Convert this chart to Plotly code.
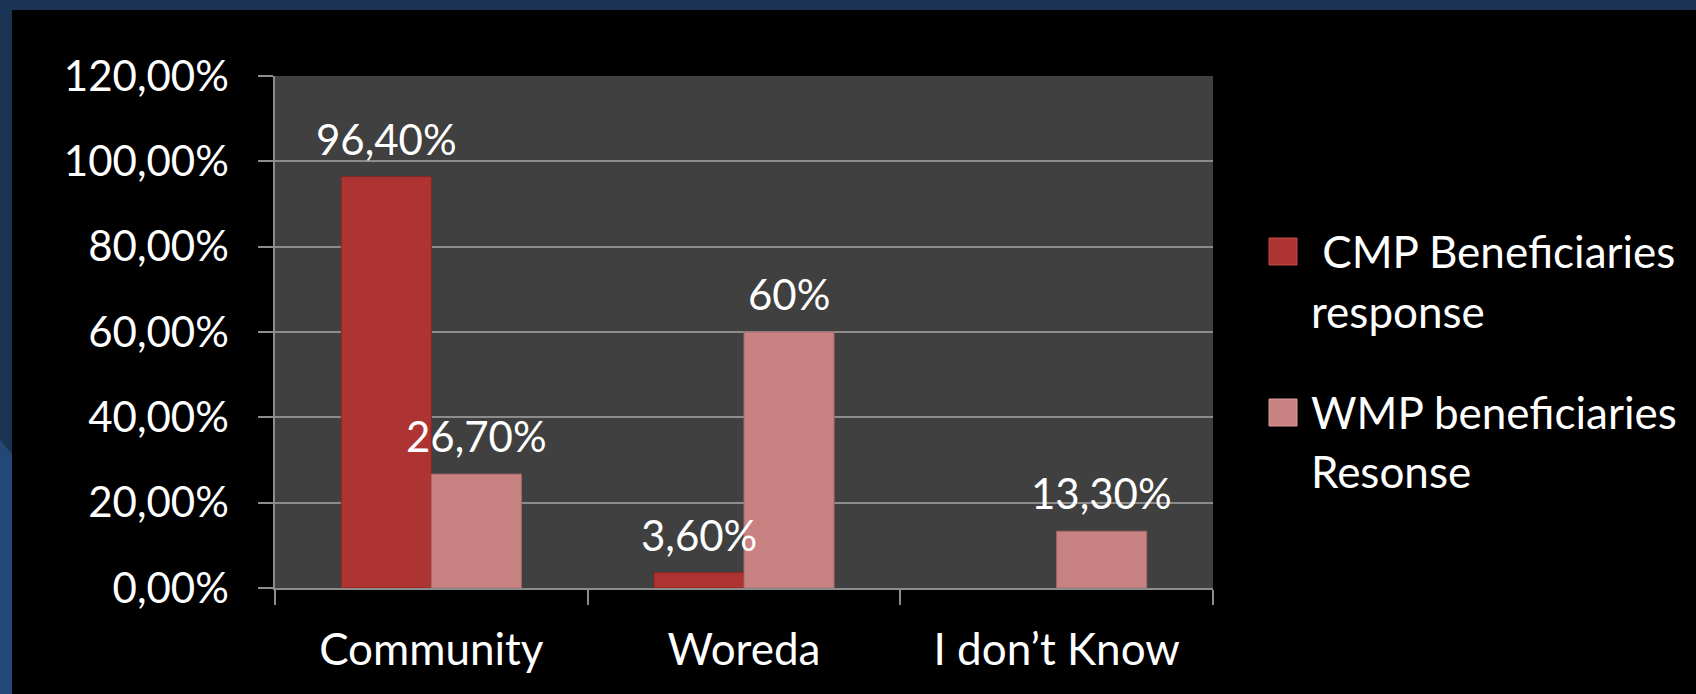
import plotly.graph_objects as go

# Survey answers per category
categories = ["Community", "Woreda", "I don’t Know"]
cmp_values = [0.964, 0.036, None]
wmp_values = [0.267, 0.60, 0.133]
cmp_labels = ["96,40%", "3,60%", ""]
wmp_labels = ["26,70%", "60%", "13,30%"]
series_names = [" CMP Beneficiaries", "WMP beneficiaries"]
series_names_2 = ["response", "Resonse"]
y_ticks = [0, 0.2, 0.4, 0.6, 0.8, 1.0, 1.2]

W, H = 1696, 694
ML, MR, MT, MB = 275, 483, 76, 106
PW, PH = W - ML - MR, H - MT - MB

FONT = "Lato"
CMP_COLOR = "#ad3432"
WMP_COLOR = "#c98282"
BARGAP = 0.424
bar_w = (1 - BARGAP) / 2


def px(x):
    return (x - ML) / PW


def py(y):
    return 1 - (y - MT) / PH


fig = go.Figure()
fig.add_trace(go.Bar(
    x=categories, y=cmp_values, name=series_names[0],
    marker=dict(color=CMP_COLOR, line=dict(color="#8a2624", width=1)),
))
fig.add_trace(go.Bar(
    x=categories, y=wmp_values, name=series_names[1],
    marker=dict(color=WMP_COLOR, line=dict(color="#a86868", width=1)),
))

# value labels above each bar
label_font = dict(family=FONT, size=42, color="white")
annotations = []
for i, (v, t) in enumerate(zip(cmp_values, cmp_labels)):
    if v is not None and t:
        annotations.append(dict(x=i - bar_w / 2, y=v, xref="x", yref="y", text=t,
                                showarrow=False, yanchor="bottom", yshift=11,
                                font=label_font))
for i, (v, t) in enumerate(zip(wmp_values, wmp_labels)):
    if v is not None and t:
        annotations.append(dict(x=i + bar_w / 2, y=v, xref="x", yref="y", text=t,
                                showarrow=False, yanchor="bottom", yshift=11,
                                font=label_font))

# legend drawn at the right of the plot
legend_font = dict(family=FONT, size=44, color="white")
legend_rows = [(251, 311, CMP_COLOR, "#c84a46"), (412, 471, WMP_COLOR, "#e09a9a")]
shapes = []
for k, (y1, y2, col, light) in enumerate(legend_rows):
    shapes.append(dict(type="rect", xref="paper", yref="paper",
                       x0=px(1269), x1=px(1297), y0=py(y1 + 14), y1=py(y1 - 13),
                       fillcolor=col, line=dict(color=light, width=1)))
    annotations.append(dict(x=px(1309), y=py(y1), xref="paper", yref="paper",
                            text=series_names[k], showarrow=False, xanchor="left",
                            yanchor="middle", font=legend_font))
    annotations.append(dict(x=px(1309), y=py(y2), xref="paper", yref="paper",
                            text=series_names_2[k], showarrow=False, xanchor="left",
                            yanchor="middle", font=legend_font))

# slide frame: dark blue strips along the top and left edges
shapes += [
    dict(type="rect", xref="paper", yref="paper", layer="below",
         x0=px(0), x1=px(W), y0=py(10), y1=py(0),
         fillcolor="#1b3354", line=dict(width=0)),
    dict(type="rect", xref="paper", yref="paper", layer="below",
         x0=px(0), x1=px(12), y0=py(H), y1=py(0),
         fillcolor="#1b3354", line=dict(width=0)),
    dict(type="path", xref="paper", yref="paper", layer="below",
         path=f"M {px(0)},{py(440)} L {px(12)},{py(454)} L {px(12)},{py(H)} L {px(0)},{py(H)} Z",
         fillcolor="#234876", line=dict(width=0)),
]

fig.update_layout(
    width=W, height=H,
    margin=dict(l=ML, r=MR, t=MT, b=MB),
    paper_bgcolor="#000000",
    plot_bgcolor="#404040",
    barmode="group", bargap=BARGAP, bargroupgap=0,
    showlegend=False,
    separators=", ",
    font=dict(family=FONT, size=40, color="white"),
    annotations=annotations,
    shapes=shapes,
)
fig.update_yaxes(
    range=[0, 1.2], tickvals=y_ticks, tickformat=".2%",
    showgrid=True, gridcolor="#8c8c8c", gridwidth=1.5,
    showline=True, linecolor="#8c8c8c", linewidth=1.5,
    ticks="outside", ticklen=15, tickcolor="#8c8c8c", tickwidth=1.5,
    ticklabelstandoff=21, zeroline=False,
    tickfont=dict(family=FONT, size=42, color="white"),
)
fig.update_xaxes(
    showline=True, linecolor="#8c8c8c", linewidth=1.5,
    ticks="outside", ticklen=15, tickcolor="#8c8c8c", tickwidth=1.5,
    tickson="boundaries", ticklabelstandoff=22,
    tickfont=dict(family=FONT, size=44, color="white"),
)

fig.write_html("out.html")
